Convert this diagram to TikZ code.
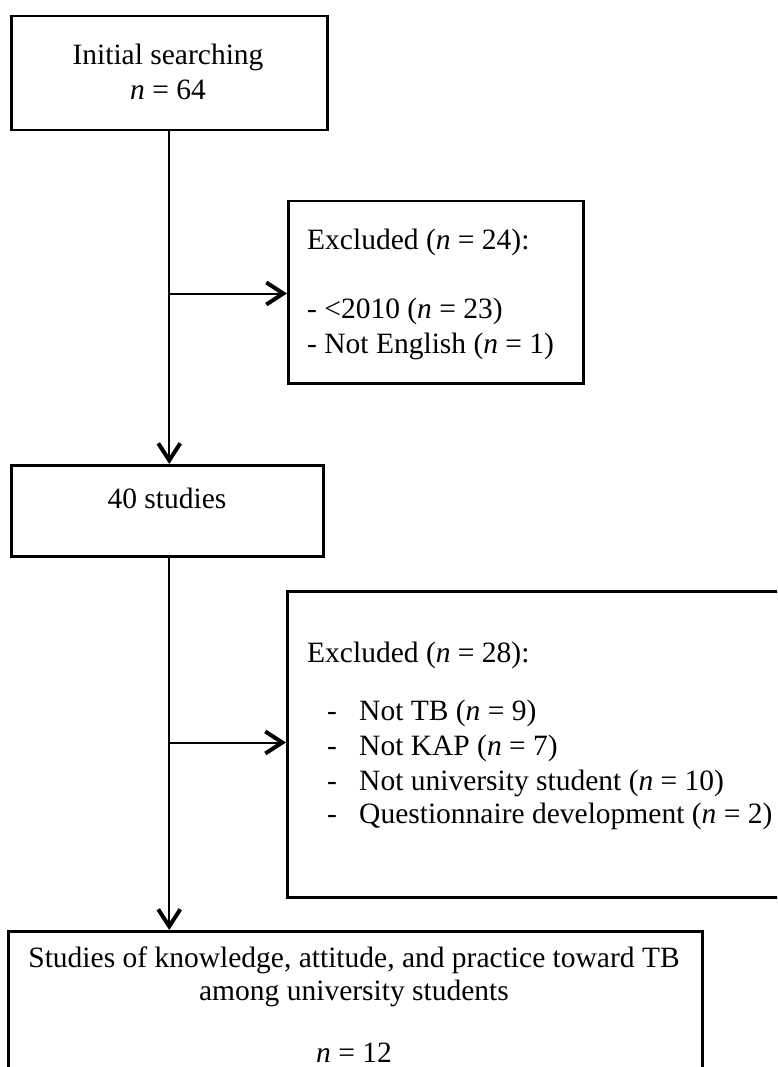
\documentclass[tikz,border=0pt]{standalone}
\usepackage{fontspec}
\setmainfont{Liberation Serif}
\usetikzlibrary{arrows.meta}
\tikzset{
	box/.style={draw, line width=2.5pt, inner sep=0pt, anchor=north west},
	flow/.style={line width=2pt, -{Straight Barb[length=17pt, width=22pt, line width=4pt]}},
	txt/.style={inner sep=0pt, anchor=base},
	txtl/.style={inner sep=0pt, anchor=base west},
}
\begin{document}
\begin{tikzpicture}[x=1pt, y=-1pt, font=\fontsize{29.5}{35}\selectfont]
	\useasboundingbox (0,0) rectangle (777,1067);
	\clip (0,0) rectangle (777,1067);
	%枠
	\node[box, minimum width=316pt, minimum height=114pt] (init) at (10,15) {};
	\node[box, minimum width=295pt, minimum height=182pt] (ex1) at (287,200) {};
	\node[box, minimum width=312pt, minimum height=91pt] (s40) at (10,464) {};
	\node[box, minimum width=520pt, minimum height=306pt] (ex2) at (286,590) {};
	\node[box, minimum width=694pt, minimum height=170pt] (final) at (7,930) {};
	%文字
	\node[txt] (init1) at (168,65) {Initial searching};
	\node[txt] (init2) at (168,100) {\textit{n} = 64};
	\node[txtl] (ex1a) at (307,250) {Excluded (\textit{n} = 24):};
	\node[txtl] (ex1b) at (307,318) {- <2010 (\textit{n} = 23)};
	\node[txtl] (ex1c) at (307,353) {- Not English (\textit{n} = 1)};
	\node[txt] (s40a) at (167,508) {40 studies};
	\node[txtl] (ex2a) at (307,662) {Excluded (\textit{n} = 28):};
	\node[txtl] (d1) at (327,720) {-};
	\node[txtl] (d2) at (327,755) {-};
	\node[txtl] (d3) at (327,790) {-};
	\node[txtl] (d4) at (327,823) {-};
	\node[txtl] (ex2b) at (359,720) {Not TB (\textit{n} = 9)};
	\node[txtl] (ex2c) at (359,755) {Not KAP (\textit{n} = 7)};
	\node[txtl] (ex2d) at (359,790) {Not university student (\textit{n} = 10)};
	\node[txtl] (ex2e) at (359,823) {Questionnaire development (\textit{n} = 2)};
	\node[txt] (final1) at (354,967) {Studies of knowledge, attitude, and practice toward TB};
	\node[txt] (final2) at (354,1000) {among university students};
	\node[txt] (final3) at (354,1062) {\textit{n} = 12};
	%矢印
	\path (init.south) ++(0,162) coordinate (b1);
	\draw[flow] (init.south) -- (init.south |- s40.north);
	\draw[flow] (b1) -- (b1 -| ex1.west);
	\path (init.south |- s40.south) coordinate (c2);
	\path (c2) ++(0,185) coordinate (b2);
	\draw[flow] (c2) -- (c2 |- final.north);
	\draw[flow] (b2) -- (b2 -| ex2.west);
\end{tikzpicture}
\end{document}
